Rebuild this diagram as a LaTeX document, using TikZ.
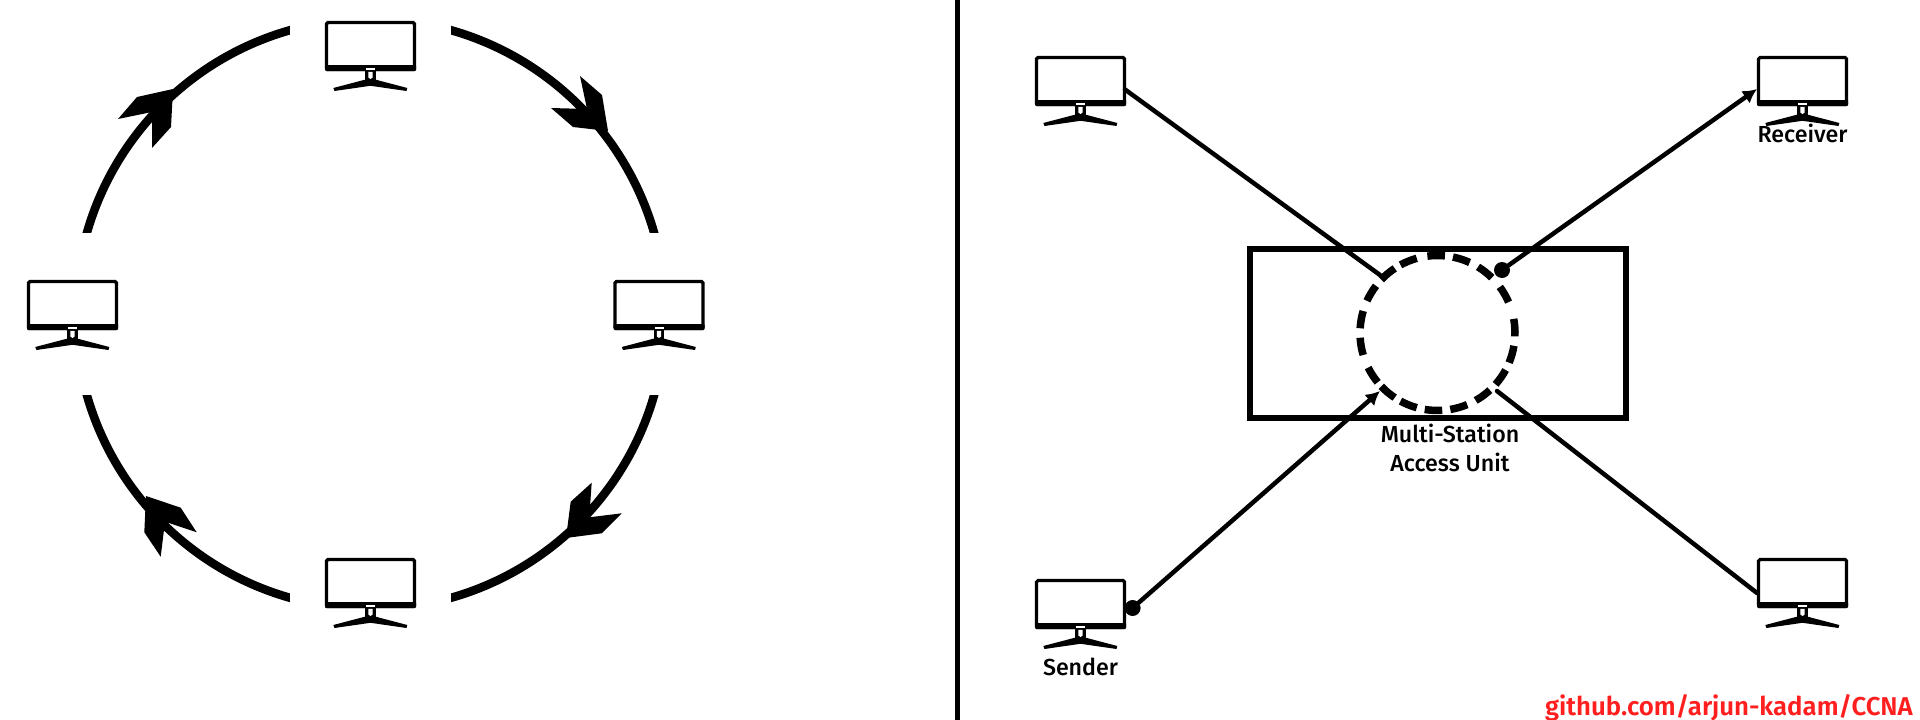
\documentclass[tikz,border=0pt]{standalone}
\usepackage{fontspec}
\setmainfont{Fira Sans}
\newfontfamily\labfont{Fira Sans Medium}
\newfontfamily\ghfont{Fira Sans SemiBold}
\usetikzlibrary{arrows.meta}
\definecolor{wm}{HTML}{FF1F1F}
\tikzset{
  screenbox/.style={draw=black,line width=3.2pt,rounded corners=1.5pt,fill=white,minimum width=88pt,minimum height=47pt,inner sep=0pt,outer sep=0pt},
  ringarc/.style={line width=8.5pt},
  ringhead/.style={fill=black,draw=none},
  link/.style={line width=4.5pt,line cap=round},
  tiphead/.style={-{Latex[length=14pt,width=15pt]}},
  lab/.style={font=\fontsize{23.2}{29}\labfont, inner sep=0pt, align=center, text=black},
  dashseg/.style={line width=7.5pt},
}
\newcommand{\monitor}[3]{%
  \node[screenbox] (#1) at (#2+45.5,#3+25) {};
  \begin{scope}[shift={(#2,#3)}]
    \fill[black,rounded corners=1pt] (0,44) rectangle (91,50);
    \fill[white] (41,46.7) rectangle (50,48.5);
    \fill[black] (40.2,50) rectangle (50.5,60);
    \fill[white] (43.3,50.8) -- (47.7,50.8) -- (47.7,56.5) -- (45.5,58) -- (43.3,56.5) -- cycle;
    \fill[black] (8.3,67) -- (40.7,58.5) -- (50,58.5) -- (82.3,67) -- (81.5,70) -- (45.5,64.8) -- (9.5,70) -- cycle;
  \end{scope}}
\begin{document}
\begin{tikzpicture}[x=1pt,y=-1pt]
\useasboundingbox (0,0) rectangle (1920,720);
\fill[white] (0,0) rectangle (1920,720);
% divider
\coordinate (divtop) at (957.5,0);
\coordinate (divbot) at (957.5,720);
\draw[line width=4.5pt] (divtop) -- (divbot);
% left ring
\coordinate (c) at (370.5,314);
\draw[ringarc] (c) ++(-76:295) arc[start angle=-76,end angle=-14,radius=295];
\draw[ringarc] (c) ++(14:295) arc[start angle=14,end angle=76,radius=295];
\draw[ringarc] (c) ++(104:295) arc[start angle=104,end angle=166,radius=295];
\draw[ringarc] (c) ++(194:295) arc[start angle=194,end angle=256,radius=295];
\fill[white] (290,0) rectangle (451,60);
\fill[white] (290,570) rectangle (451,620);
\fill[white] (60,233) rectangle (110,394.5);
\fill[white] (630,233) rectangle (680,394.5);
\fill[ringhead] (608,131) -- (602,95) -- (580,76) -- (587,109) -- (551,108) -- (573,127) -- cycle;
\fill[ringhead] (591.7,482.7) -- (570.7,501.7) -- (566,538) -- (601.7,533.3) -- (621.7,513.3) -- (589.3,517.3) -- cycle;
\fill[ringhead] (146,496) -- (180.7,507.7) -- (196.7,532.3) -- (165,521.7) -- (160.7,556.7) -- (144.3,532.3) -- cycle;
\fill[ringhead] (173,89) -- (137,97) -- (118,119) -- (152,112) -- (152,148) -- (171,127) -- cycle;
\monitor{mt}{325}{21}
\monitor{ml}{27}{280}
\monitor{mr}{613.5}{280}
\monitor{mb}{325}{558}
% right panel
\node[draw,line width=6pt,minimum width=375.5pt,minimum height=168.5pt,inner sep=0pt,outer sep=0pt] (mau) at (1437.75,333.25) {};
\coordinate (r) at (1437.5,333);
\foreach \a in {4,-16,-35,-54,-74,-93,-112,-130,-147,-170,170,149,130,112,91,72,52,30}
  \draw[dashseg] (r) ++(-\a-6.5:77.5) arc[start angle=-\a-6.5,end angle=-\a+6.5,radius=77.5];
\monitor{n1}{1035}{56}
\monitor{n2}{1757}{56}
\monitor{n3}{1035}{579}
\monitor{n4}{1757}{558}
\coordinate (e1) at (1380,275);
\coordinate (e4) at (1497,391);
\coordinate (a2) at (1757,89);
\coordinate (a3) at (1380,391);
\coordinate (p1) at (1125,89.5);
\coordinate (p4) at (1757,593);
\node[circle,fill=black,minimum size=16pt,inner sep=0pt] (d2) at (1502,270) {};
\node[circle,fill=black,minimum size=16pt,inner sep=0pt] (d3) at (1132.6,608) {};
\draw[link] (p1) -- (e1);
\draw[link] (e4) -- (p4);
\draw[link,tiphead] (d2) -- (a2);
\draw[link,tiphead] (d3) -- (a3);
\node[lab,anchor=base] (t1) at (1450,442) {Multi-Station};
\node[lab,anchor=base] (t2) at (1450,471) {Access Unit};
\node[lab,anchor=base] (t3) at (1080.5,675.5) {Sender};
\node[lab,anchor=base] (t4) at (1802.5,142.5) {Receiver};
\node[anchor=base east,inner sep=0pt,text=wm,font=\fontsize{25.8}{29}\ghfont] (gh) at (1913,715) {github.com/arjun-kadam/CCNA};
\end{tikzpicture}
\end{document}
